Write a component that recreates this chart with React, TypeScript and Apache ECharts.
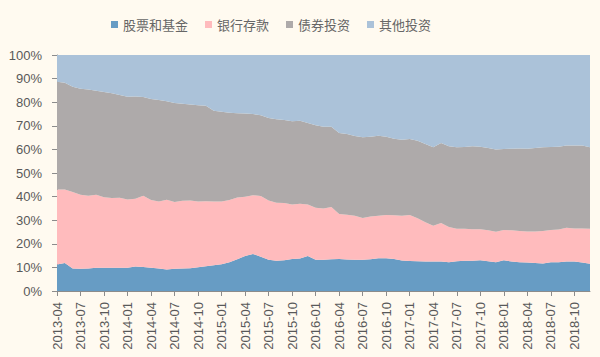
import React, { useEffect, useRef } from "react";
import * as echarts from "echarts";

const seriesNames = ["股票和基金", "银行存款", "债券投资", "其他投资"];

// monthly 2013-04 .. 2018-12
const startYear = 2013;
const startMonth = 4;
const monthCount = 69;
const categories: string[] = Array.from({ length: monthCount }, (_, i) => {
  const m = startMonth - 1 + i;
  const y = startYear + Math.floor(m / 12);
  const mm = (m % 12) + 1;
  return `${y}-${mm < 10 ? "0" + mm : mm}`;
});

const stockFund = [
  11.2, 11.9, 9.5, 9.4, 9.5, 9.9, 9.9, 9.8, 9.9, 9.9, 10.4, 10.2,
  9.9, 9.5, 9.1, 9.4, 9.5, 9.6, 10.1, 10.5, 10.9, 11.3, 12.2, 13.5,
  14.8, 15.7, 14.5, 13.2, 12.8, 13.0, 13.6, 13.8, 14.8, 13.2, 13.2, 13.5,
  13.6, 13.3, 13.2, 13.2, 13.5, 13.9, 13.9, 13.6, 12.9, 12.7, 12.6, 12.5,
  12.5, 12.5, 12.2, 12.6, 12.8, 12.8, 13.0, 12.6, 12.2, 13.0, 12.5, 12.2,
  12.1, 11.9, 11.6, 12.2, 12.2, 12.5, 12.5, 12.1, 11.5,
];

const bankDeposit = [
  31.8, 31.1, 32.4, 31.4, 30.9, 30.9, 29.8, 29.6, 29.6, 28.9, 28.7, 30.2,
  28.7, 28.4, 29.6, 28.3, 28.7, 28.7, 27.8, 27.5, 27.0, 26.6, 26.4, 26.1,
  25.1, 24.9, 25.8, 25.1, 24.6, 24.3, 23.0, 23.2, 21.9, 22.1, 21.8, 22.1,
  19.0, 19.0, 18.7, 17.7, 18.1, 18.0, 18.3, 18.5, 19.0, 19.5, 18.2, 16.6,
  15.2, 16.3, 14.9, 13.8, 13.6, 13.4, 13.2, 13.1, 12.9, 12.8, 13.2, 13.2,
  13.1, 13.3, 13.8, 13.6, 13.9, 14.3, 14.0, 14.4, 14.9,
];

const bonds = [
  45.7, 45.2, 44.6, 44.9, 45.0, 44.0, 44.6, 44.4, 43.6, 43.5, 43.3, 41.8,
  42.8, 43.0, 41.7, 42.0, 41.1, 40.7, 40.8, 40.5, 38.5, 38.1, 36.9, 35.7,
  35.3, 34.4, 34.2, 35.0, 35.4, 35.2, 35.3, 35.1, 34.5, 34.9, 34.6, 34.0,
  34.4, 34.2, 33.8, 34.2, 33.8, 33.9, 33.2, 32.4, 32.2, 32.2, 32.9, 33.2,
  33.2, 33.9, 34.2, 34.5, 34.6, 35.1, 34.9, 34.9, 34.9, 34.4, 34.6, 35.0,
  35.1, 35.4, 35.5, 35.2, 35.0, 34.8, 35.2, 35.1, 34.5,
];

const otherInvest = [
  11.3, 11.8, 13.5, 14.3, 14.6, 15.2, 15.7, 16.2, 16.9, 17.7, 17.6, 17.8,
  18.6, 19.1, 19.6, 20.3, 20.7, 21.0, 21.3, 21.5, 23.6, 24.0, 24.5, 24.7,
  24.8, 25.0, 25.5, 26.7, 27.2, 27.5, 28.1, 27.9, 28.8, 29.8, 30.4, 30.4,
  33.0, 33.5, 34.3, 34.9, 34.6, 34.2, 34.6, 35.5, 35.9, 35.6, 36.3, 37.7,
  39.1, 37.3, 38.7, 39.1, 39.0, 38.7, 38.9, 39.4, 40.0, 39.8, 39.7, 39.6,
  39.7, 39.4, 39.1, 39.0, 38.9, 38.4, 38.3, 38.4, 39.1,
];

const colors = ["#679cc4", "#ffbbbd", "#aeaaaa", "#abc2d9"];

export default function App() {
  const ref = useRef<HTMLDivElement>(null);
  useEffect(() => {
    if (!ref.current) return;
    const chart = echarts.init(ref.current, undefined, { renderer: "svg" });
    const data = [stockFund, bankDeposit, bonds, otherInvest];
    chart.setOption({
      animation: false,
      backgroundColor: "#fffaf0",
      textStyle: { fontFamily: "Liberation Sans, Arial, sans-serif" },
      legend: {
        left: 106,
        top: 13,
        itemWidth: 7,
        itemHeight: 7,
        itemGap: 17,
        icon: "rect",
        textStyle: {
          fontFamily: "Noto Sans CJK SC",
          fontSize: 13,
          color: "#666666",
        },
        data: seriesNames,
      },
      grid: { left: 57, right: 10, top: 55, bottom: 66, containLabel: false },
      xAxis: {
        type: "category",
        boundaryGap: false,
        data: categories,
        axisLine: { lineStyle: { color: "#8c8c8c", width: 1 } },
        axisTick: { interval: 2, length: 5, lineStyle: { color: "#8c8c8c" } },
        axisLabel: {
          interval: 2,
          rotate: 90,
          margin: 11,
          fontSize: 13,
          color: "#595959",
          fontFamily: "Liberation Sans",
        },
        splitLine: { show: false },
      },
      yAxis: {
        type: "value",
        min: 0,
        max: 100,
        interval: 10,
        axisLine: { show: true, lineStyle: { color: "#8c8c8c", width: 1 } },
        axisTick: { show: true, length: 5, lineStyle: { color: "#8c8c8c" } },
        axisLabel: {
          formatter: "{value}%",
          fontSize: 13,
          margin: 15,
          color: "#595959",
          fontFamily: "Liberation Sans",
        },
        splitLine: { show: false },
      },
      series: seriesNames.map((name, i) => ({
        name,
        type: "line",
        stack: "total",
        data: data[i],
        showSymbol: false,
        symbol: "none",
        lineStyle: { width: 0 },
        areaStyle: { color: colors[i], opacity: 1 },
        itemStyle: { color: colors[i] },
        z: 2,
      })),
    });
    return () => chart.dispose();
  }, []);
  return (
    <div
      ref={ref}
      style={{ position: "absolute", left: 0, top: 0, width: 600, height: 357 }}
    />
  );
}
